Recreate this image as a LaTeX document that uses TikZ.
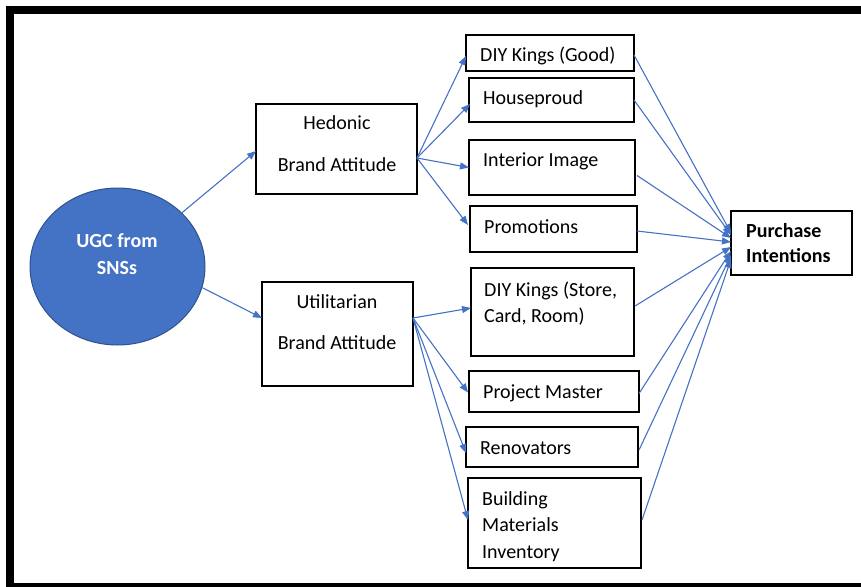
\documentclass[tikz,border=0pt]{standalone}
\usepackage{fontspec}
\setmainfont{Carlito}
\usetikzlibrary{arrows.meta,calc,shapes.geometric}
\definecolor{ablue}{HTML}{4472C4}
\definecolor{dblue}{HTML}{2F528F}
\begin{document}
\begin{tikzpicture}[x=1pt,y=-1pt,
  box/.style={draw=black,line width=1.2pt,inner sep=0pt,outer sep=0pt,anchor=north west},
  lbl/.style={inner sep=0pt,anchor=west,align=left,font=\fontsize{20}{26.5}\selectfont},
  conn/.style={draw=ablue,line width=1.1pt,-{Triangle[length=9pt,width=7pt]}},
]
\useasboundingbox (0,0) rectangle (861,586);
\clip (0,0) rectangle (861,586);
\draw[line width=8pt] (10,10) rectangle (866,587);

% ellipse
\node[ellipse,fill=ablue,draw=dblue,line width=1pt,minimum width=175pt,minimum height=157pt,inner sep=0pt] (ugc) at (117.5,266.5) {};
\node[inner sep=0pt,align=center,text=white,font=\bfseries\fontsize{20}{27}\selectfont] (ugct) at (117,253.75) {UGC from\\SNSs};

% boxes
\node[box,minimum width=161pt,minimum height=90pt] (hed) at (256,104) {};
\node[box,minimum width=151pt,minimum height=104pt] (uti) at (262,282) {};
\node[box,minimum width=168pt,minimum height=36pt] (dg) at (466,35) {};
\node[box,minimum width=165pt,minimum height=44pt] (hp) at (469,78) {};
\node[box,minimum width=166pt,minimum height=55pt] (ii) at (469,140) {};
\node[box,minimum width=167pt,minimum height=46pt] (pr) at (470,206) {};
\node[box,minimum width=163pt,minimum height=88pt] (ds) at (471,268) {};
\node[box,minimum width=170pt,minimum height=41pt] (pm) at (469,371) {};
\node[box,minimum width=172pt,minimum height=40pt] (rn) at (466,427) {};
\node[box,minimum width=173pt,minimum height=90pt] (bm) at (468,478) {};
\node[box,minimum width=121pt,minimum height=64pt] (pi) at (731,211) {};

% texts
\node[lbl,anchor=center,align=center] (hedt) at (337,143.5) {Hedonic\\[15.5pt]Brand Attitude};
\node[lbl,anchor=center,align=center] (utit) at (337,322) {Utilitarian\\[14.5pt]Brand Attitude};
\node[lbl] (dgt) at (480,56) {DIY Kings (Good)};
\node[lbl] (hpt) at (483,99) {Houseproud};
\node[lbl] (iit) at (483,161) {Interior Image};
\node[lbl] (prt) at (484,227) {Promotions};
\node[lbl,font=\fontsize{20}{26}\selectfont] (dst) at (484,303.5) {DIY Kings (Store,\\Card, Room)};
\node[lbl] (pmt) at (483,393) {Project Master};
\node[lbl] (rnt) at (480,448) {Renovators};
\node[lbl] (bmt) at (482,526.5) {Building\\Materials\\Inventory};
\node[lbl,font=\bfseries\fontsize{20}{25}\selectfont] (pit) at (746,243) {Purchase\\Intentions};

% start points
\coordinate (hs) at ($(hed.east)+(0,9)$);
\coordinate (us) at ($(uti.east)+(0,-16)$);

% connectors
\draw[conn] (ugc) -- ($(hed.west)+(0,2)$);
\draw[conn] (ugc.-14) -- ($(uti.west)+(0,-16)$);

\draw[conn] (hs) -- ($(dg.west)+(0,3)$);
\draw[conn] (hs) -- ($(hp.west)+(1,4)$);
\draw[conn] (hs) -- (ii.west);
\draw[conn] (hs) -- ($(pr.west)+(-2,-4)$);

\draw[conn] (us) -- ($(ds.west)+(0,-4)$);
\draw[conn] (us) -- ($(pm.west)+(-1,1)$);
\draw[conn] (us) -- ($(rn.west)+(0,6)$);
\draw[conn] (us) -- ($(bm.west)+(0,-3)$);

\draw[conn] ($(dg.east)+(0,2)$) -- ($(pi.west)+(0,-10)$);
\draw[conn] (hp.east) -- ($(pi.west)+(0,-8)$);
\draw[conn] ($(ii.east)+(2,8)$) -- ($(pi.west)+(0,-5)$);
\draw[conn] ($(pr.east)+(0,2)$) -- ($(pi.west)+(0,-1)$);
\draw[conn] ($(ds.east)+(1,-6)$) -- ($(pi.west)+(0,4)$);
\draw[conn] ($(pm.east)+(0,2)$) -- ($(pi.west)+(0,8)$);
\draw[conn] ($(rn.east)+(1,3)$) -- ($(pi.west)+(0,12)$);
\draw[conn] ($(bm.east)+(1,-3)$) -- ($(pi.west)+(0,16)$);
\end{tikzpicture}
\end{document}
